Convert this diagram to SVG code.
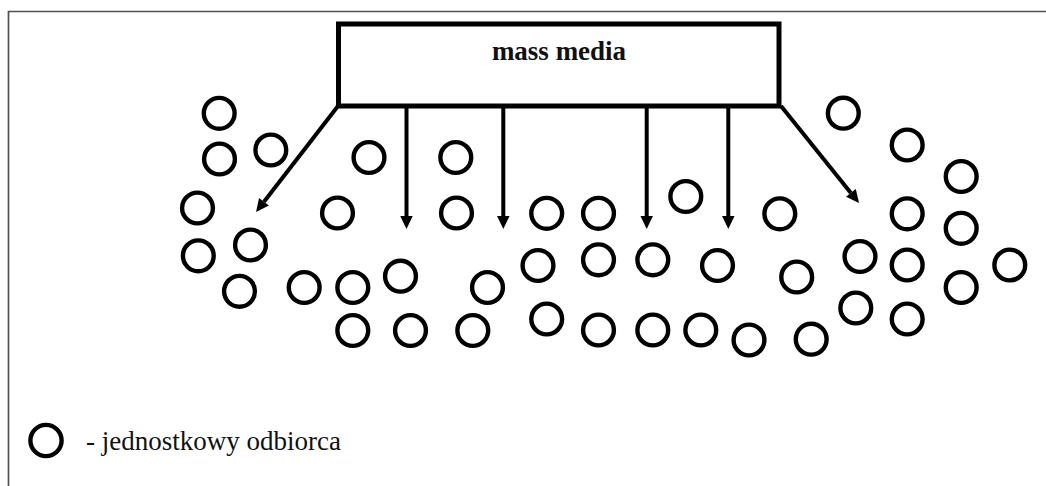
<svg xmlns="http://www.w3.org/2000/svg" width="1046" height="486" viewBox="0 0 1046 486">
  <style>
    .frame { fill: none; stroke: #505050; stroke-width: 1.7; }
    .box { fill: #fff; stroke: #000; stroke-width: 5; }
    .title { font-family: "Liberation Serif", "Times New Roman", serif; font-weight: bold; font-size: 27px; fill: #111; text-anchor: middle; }
    .legend { font-family: "Liberation Serif", "Times New Roman", serif; font-size: 27px; fill: #111; }
    .rcv { fill: none; stroke: #000; stroke-width: 4.4; }
    .conn { stroke: #000; stroke-width: 4; fill: none; }
  </style>
  <defs>
    <marker id="head" markerUnits="userSpaceOnUse" markerWidth="14" markerHeight="13" refX="0" refY="6.25" orient="auto" overflow="visible">
      <path d="M0,0 L13,6.25 L0,12.5 z" fill="#000"/>
    </marker>
  </defs>

  <rect width="1046" height="486" fill="#fff"/>

  <!-- page frame (top and left edges only) -->
  <path class="frame" d="M8.5,486 V11.5 H1046"/>

  <!-- broadcaster -->
  <g id="mass-media">
    <rect class="box" x="338.5" y="24" width="440.5" height="82"/>
    <text class="title" x="559" y="60">mass media</text>
  </g>

  <!-- broadcast arrows -->
  <g id="connectors">
    <line class="conn" x1="338" y1="106" x2="264" y2="201.7" marker-end="url(#head)"/>
    <line class="conn" x1="406.5" y1="106" x2="406.5" y2="216" marker-end="url(#head)"/>
    <line class="conn" x1="503.3" y1="106" x2="503.3" y2="216" marker-end="url(#head)"/>
    <line class="conn" x1="646.7" y1="106" x2="646.7" y2="216" marker-end="url(#head)"/>
    <line class="conn" x1="728.3" y1="106" x2="728.3" y2="216" marker-end="url(#head)"/>
    <line class="conn" x1="781" y1="106" x2="850.9" y2="192.9" marker-end="url(#head)"/>
  </g>

  <!-- individual receivers -->
  <g id="receivers">
    <g id="r1"><circle class="rcv" cx="219.2" cy="113.3" r="15.4"/></g>
    <g id="r2"><circle class="rcv" cx="219.5" cy="159" r="15.4"/></g>
    <g id="r3"><circle class="rcv" cx="270.8" cy="150" r="15.4"/></g>
    <g id="r4"><circle class="rcv" cx="197.5" cy="208" r="15.4"/></g>
    <g id="r5"><circle class="rcv" cx="250.5" cy="245" r="15.4"/></g>
    <g id="r6"><circle class="rcv" cx="198.3" cy="255.8" r="15.4"/></g>
    <g id="r7"><circle class="rcv" cx="239.5" cy="291.3" r="15.4"/></g>
    <g id="r8"><circle class="rcv" cx="304.2" cy="287.5" r="15.4"/></g>
    <g id="r9"><circle class="rcv" cx="352.8" cy="287.5" r="15.4"/></g>
    <g id="r10"><circle class="rcv" cx="400.5" cy="276.2" r="15.4"/></g>
    <g id="r11"><circle class="rcv" cx="352.8" cy="330.5" r="15.4"/></g>
    <g id="r12"><circle class="rcv" cx="410.5" cy="330.5" r="15.4"/></g>
    <g id="r13"><circle class="rcv" cx="472.8" cy="330.5" r="15.4"/></g>
    <g id="r14"><circle class="rcv" cx="487.5" cy="287.5" r="15.4"/></g>
    <g id="r15"><circle class="rcv" cx="337.5" cy="213" r="15.4"/></g>
    <g id="r16"><circle class="rcv" cx="369" cy="157.5" r="15.4"/></g>
    <g id="r17"><circle class="rcv" cx="455.8" cy="157.5" r="15.4"/></g>
    <g id="r18"><circle class="rcv" cx="456.5" cy="213" r="15.4"/></g>
    <g id="r19"><circle class="rcv" cx="546.7" cy="213.3" r="15.4"/></g>
    <g id="r20"><circle class="rcv" cx="598.5" cy="213.3" r="15.4"/></g>
    <g id="r21"><circle class="rcv" cx="685.8" cy="196.5" r="15.4"/></g>
    <g id="r22"><circle class="rcv" cx="779.8" cy="213.8" r="15.4"/></g>
    <g id="r23"><circle class="rcv" cx="538" cy="265.5" r="15.4"/></g>
    <g id="r24"><circle class="rcv" cx="598.5" cy="259.8" r="15.4"/></g>
    <g id="r25"><circle class="rcv" cx="652.8" cy="259.8" r="15.4"/></g>
    <g id="r26"><circle class="rcv" cx="717.5" cy="265.5" r="15.4"/></g>
    <g id="r27"><circle class="rcv" cx="796.7" cy="277" r="15.4"/></g>
    <g id="r28"><circle class="rcv" cx="546.7" cy="319" r="15.4"/></g>
    <g id="r29"><circle class="rcv" cx="598.5" cy="330" r="15.4"/></g>
    <g id="r30"><circle class="rcv" cx="652.8" cy="330" r="15.4"/></g>
    <g id="r31"><circle class="rcv" cx="700.8" cy="330" r="15.4"/></g>
    <g id="r32"><circle class="rcv" cx="749" cy="340" r="15.4"/></g>
    <g id="r33"><circle class="rcv" cx="811.2" cy="339.2" r="15.4"/></g>
    <g id="r34"><circle class="rcv" cx="843.3" cy="113.2" r="15.4"/></g>
    <g id="r35"><circle class="rcv" cx="907.2" cy="145" r="15.4"/></g>
    <g id="r36"><circle class="rcv" cx="961.2" cy="176.5" r="15.4"/></g>
    <g id="r37"><circle class="rcv" cx="907.2" cy="213.8" r="15.4"/></g>
    <g id="r38"><circle class="rcv" cx="961.2" cy="228.3" r="15.4"/></g>
    <g id="r39"><circle class="rcv" cx="860" cy="256.5" r="15.4"/></g>
    <g id="r40"><circle class="rcv" cx="907.2" cy="265" r="15.4"/></g>
    <g id="r41"><circle class="rcv" cx="1009.8" cy="265" r="15.4"/></g>
    <g id="r42"><circle class="rcv" cx="961.2" cy="287.5" r="15.4"/></g>
    <g id="r43"><circle class="rcv" cx="855.8" cy="308" r="15.4"/></g>
    <g id="r44"><circle class="rcv" cx="907.2" cy="319" r="15.4"/></g>
  </g>

  <!-- legend -->
  <g id="legend">
    <circle class="rcv" cx="46" cy="440.5" r="15.6" stroke-width="5"/>
    <text class="legend" x="86" y="450">- jednostkowy odbiorca</text>
  </g>
</svg>
